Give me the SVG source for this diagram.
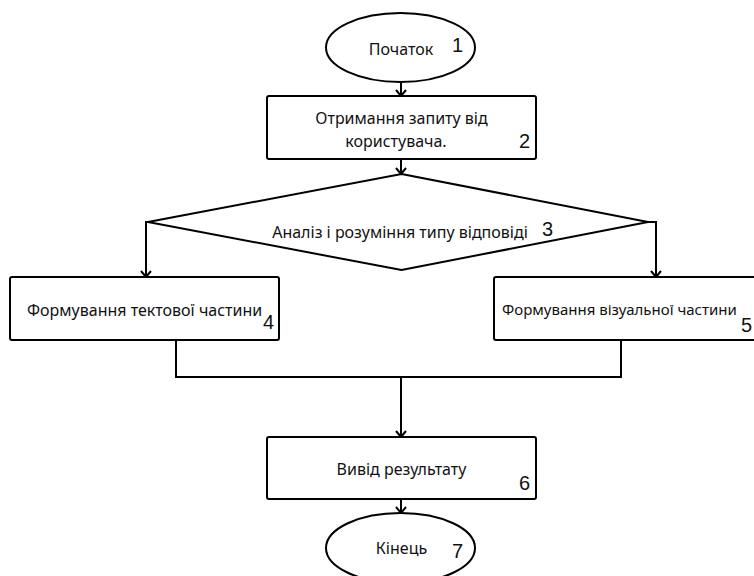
<svg xmlns="http://www.w3.org/2000/svg" width="754" height="576" viewBox="0 0 754 576">
  <defs>
    <marker id="arr" viewBox="-1 -6 8 12" refX="6" refY="0" markerWidth="8" markerHeight="12" markerUnits="userSpaceOnUse" orient="auto">
      <path d="M0,-5 L6,0 L0,5" fill="none" stroke="#000" stroke-width="2"/>
    </marker>
  </defs>
  <style>
    .shape { fill: #fff; stroke: #000; stroke-width: 2; }
    .lbl { font-family: "Noto Sans", "Open Sans", sans-serif; font-size: 16px; fill: #111; }
    .num { font-family: "Liberation Sans", Arial, sans-serif; font-size: 20px; fill: #111; }
    .conn { fill: none; stroke: #000; stroke-width: 2; }
  </style>
  <rect width="754" height="576" fill="#fff"/>

  <g id="connectors">
    <path class="conn" d="M401,82 V96" marker-end="url(#arr)"/>
    <path class="conn" d="M401,159 V174" marker-end="url(#arr)"/>
    <path class="conn" d="M148,222 H146 V277" marker-end="url(#arr)"/>
    <path class="conn" d="M648,222 H656 V277" marker-end="url(#arr)"/>
    <path class="conn" d="M176,340 V377 H621 V340"/>
    <path class="conn" d="M401,377 V437" marker-end="url(#arr)"/>
    <path class="conn" d="M401,499 V513" marker-end="url(#arr)"/>
  </g>

  <g id="node1">
    <ellipse class="shape" cx="400.5" cy="47.5" rx="74.5" ry="34.5"/>
    <text class="lbl" x="401" y="55" text-anchor="middle">Початок</text>
    <text class="num" x="452" y="52">1</text>
  </g>

  <g id="node2">
    <rect class="shape" x="267" y="96" width="269" height="63" rx="2"/>
    <text class="lbl" x="401.5" y="124" text-anchor="middle">Отримання запиту від</text>
    <text class="lbl" x="396" y="147" text-anchor="middle">користувача.</text>
    <text class="num" x="519" y="148">2</text>
  </g>

  <g id="node3">
    <polygon class="shape" points="401.5,174 648,222 401.5,270 148,222"/>
    <text class="lbl" x="400" y="238" text-anchor="middle">Аналіз і розуміння типу відповіді</text>
    <text class="num" x="542" y="236">3</text>
  </g>

  <g id="node4">
    <rect class="shape" x="10" y="277" width="269" height="63" rx="2"/>
    <text class="lbl" x="27" y="316">Формування тектової частини</text>
    <text class="num" x="263" y="329">4</text>
  </g>

  <g id="node5">
    <rect class="shape" x="494" y="277" width="270" height="63" rx="2"/>
    <text class="lbl" x="502" y="315" style="font-size:15px">Формування візуальної частини</text>
    <text class="num" x="741" y="332">5</text>
  </g>

  <g id="node6">
    <rect class="shape" x="267" y="437" width="269" height="62" rx="2"/>
    <text class="lbl" x="401.5" y="475" text-anchor="middle">Вивід результату</text>
    <text class="num" x="519" y="490">6</text>
  </g>

  <g id="node7">
    <ellipse class="shape" cx="400.5" cy="548" rx="74.5" ry="35"/>
    <text class="lbl" x="401.5" y="554" text-anchor="middle">Кінець</text>
    <text class="num" x="452" y="558">7</text>
  </g>
</svg>
